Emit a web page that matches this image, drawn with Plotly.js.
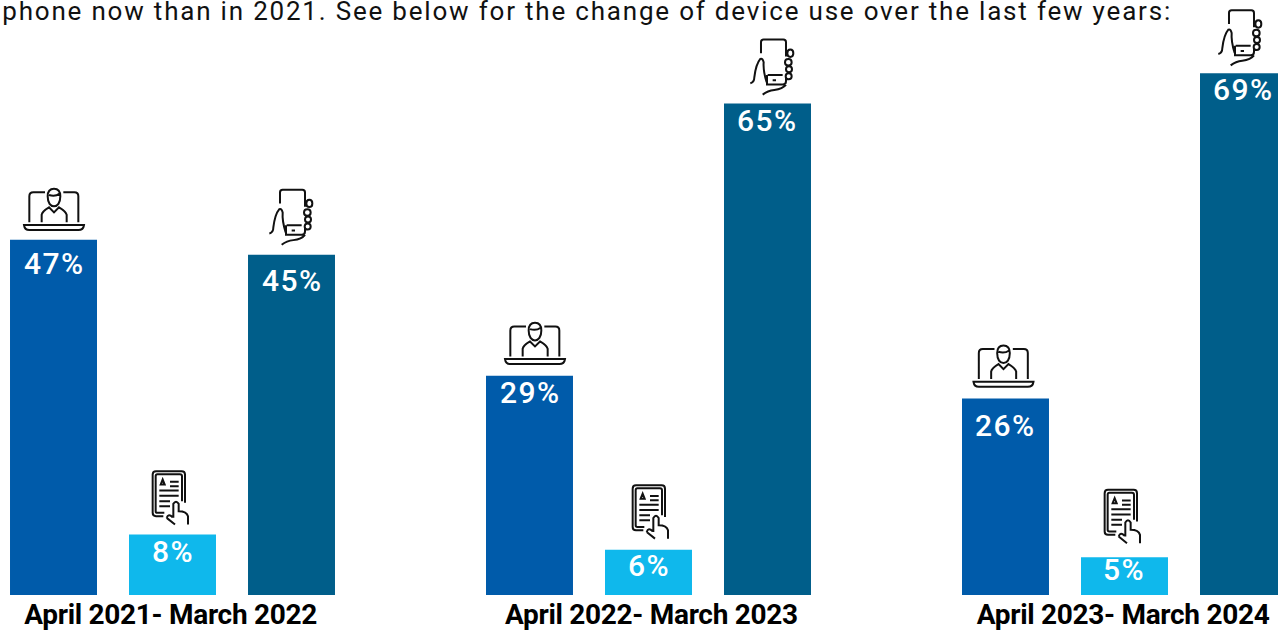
<!DOCTYPE html>
<html>
<head>
<meta charset="utf-8">
<script src="https://cdn.plot.ly/plotly-3.0.1.min.js"></script>
<style>
  html, body { margin: 0; padding: 0; background: #fff; overflow: hidden; }
  #chart { width: 1278px; height: 630px; }
  .gtitle { letter-spacing: 1.8px; }
  .annotation-text { letter-spacing: 1.4px; }
  .xtick text { letter-spacing: -0.3px; }
</style>
</head>
<body>
<div id="chart"></div>
<script>
// Share of sessions by device, one group of bars per reporting year
const periods = ["April 2021- March 2022", "April 2022- March 2023", "April 2023- March 2024"];
const computer = [47, 29, 26];
const tablet = [8, 6, 5];
const smartphone = [45, 65, 69];

const intro = "phone now than in 2021. See below for the change of device use over the last few years:";

// Category index of each group, and the nudged tick positions of its label
const groupIndex = [0, 1, 2];
const tickPositions = [-0.004, 1.006, 1.997];

// Vertical scale: pixels per percentage point, with the axis baseline 35px above the page bottom
const PX_PER_PCT = 7.56;
const PLOT_HEIGHT = 595;

const BAR_STEP = 0.25;      // distance between neighbouring bars, in group units
const seriesStyle = [
  { name: "Computer",   values: computer,   color: "#005BAA", slot: -1, icon: "laptop", drop: [24, 17, 27], lift: [9, 11, 11],  nudge: [0, 5, -2.5] },
  { name: "Tablet",     values: tablet,     color: "#0FB8EC", slot: 0,  icon: "paper",  drop: [17, 16, 12], lift: [10, 11, 14], nudge: [0, 4, 0] },
  { name: "Smartphone", values: smartphone, color: "#005E8A", slot: 1,  icon: "phone",  drop: [26, 17, 16], lift: [10, 9, 8],   nudge: [0, 5, -3] }
];

const oval = (cx, cy, rx, ry) => {
  const k = 1.33 * ry;
  return `M${cx - rx} ${cy} C${cx - rx} ${cy - k} ${cx + rx} ${cy - k} ${cx + rx} ${cy} C${cx + rx} ${cy + k} ${cx - rx} ${cy + k} ${cx - rx} ${cy} Z`;
};

// Outline icons, written at 3x in a y-down space; cx/bottom give the point placed over the bar
const icons = {
  laptop: {
    cx: 160.5, bottom: 183,
    path: [
      "M88 158 L88 80 Q88 68 100 68 L135 68",
      "M190 68 L223 68 Q235 68 235 80 L235 158",
      "M72 166 L252 166 Q250 181 235 181 L88 181 Q74 181 72 166 Z",
      "M143 80 C143 62 152 57 162 57 C172 57 181 62 181 80 C181 100 172 110 162 110 C152 110 143 100 143 80 Z",
      "M147 76 Q165 82 179 72",
      "M125 158 L125 135 Q127 125 147 113 L162 128 L177 113 Q197 125 200 135 L200 158"
    ].join(" ")
  },
  phone: {
    cx: 874.5, bottom: 222,
    path: [
      "M840 98 L840 65 Q840 57 848 57 L907 57 Q915 57 915 65 L915 108",
      "M860 163 L905 163",
      "M858 163 L858 192 L905 192 Q915 192 915 182 L915 170",
      "M875 179 L885 179",
      oval(928, 98, 9, 11), oval(922, 125, 10, 10), oval(924, 146, 9, 9), oval(923, 167, 9, 9),
      "M808 188 Q820 185 820 170 Q825 130 838 115 Q845 112 848 125 Q846 150 857 185",
      "M845 222 Q860 210 880 208 Q905 205 915 192"
    ].join(" ")
  },
  paper: {
    cx: 157.5, bottom: 190,
    path: [
      "M130 165 L108 165 Q98 165 98 155 L98 40 Q98 30 108 30 L185 30 Q195 30 195 40 L195 125",
      "M133 155 L112 155 Q107 155 107 150 L107 45 Q107 39 112 39 L180 39 Q186 39 186 45 L186 120",
      "M122 70 L128 55 L134 70 Z",
      "M150 62 L176 62 M150 75 L176 75 M118 88 L176 88 M118 104 L176 104 M118 120 L150 120 M118 135 L150 135",
      "M160 170 L160 128 Q168 115 176 128 L176 150 Q200 150 204 165 L204 190",
      "M140 170 Q145 155 158 168",
      "M140 170 L165 190"
    ].join(" ")
  }
};

// Convert an icon's 3x y-down path into pixel offsets (y up) from its anchor
function iconPath(icon, lift, nudge) {
  return icon.path.replace(/(-?[\d.]+) (-?[\d.]+)/g, (_, x, y) => {
    const px = (parseFloat(x) - icon.cx) / 3 + nudge;
    const py = (icon.bottom - parseFloat(y)) / 3 + lift;
    return `${px.toFixed(2)} ${py.toFixed(2)}`;
  });
}

const traces = seriesStyle.map(s => ({
  type: "bar",
  name: s.name,
  x: groupIndex,
  y: s.values,
  marker: { color: s.color },
  hovertemplate: "%{y}%<extra>" + s.name + "</extra>"
}));

const labels = [];
const shapes = [];
seriesStyle.forEach(s => {
  s.values.forEach((v, i) => {
    const xPos = groupIndex[i] + s.slot * BAR_STEP;
    labels.push({
      x: xPos, y: v, xref: "x", yref: "y",
      text: v + "%", showarrow: false,
      xanchor: "center", yanchor: "middle", yshift: -s.drop[i],
      font: { family: "Roboto, sans-serif", size: 30, weight: 500, color: "#ffffff" }
    });
    shapes.push({
      type: "path", xref: "x", yref: "y",
      xsizemode: "pixel", ysizemode: "pixel",
      xanchor: xPos, yanchor: v,
      path: iconPath(icons[s.icon], s.lift[i], s.nudge[i]),
      line: { color: "#111111", width: 2 },
      fillcolor: "rgba(0,0,0,0)"
    });
  });
});

const pxLeft = -0.3624, pxRight = 2.3225;

const layout = {
  width: 1278,
  height: 630,
  margin: { l: 0, r: 0, t: 0, b: 630 - PLOT_HEIGHT, pad: 0 },
  paper_bgcolor: "#ffffff",
  plot_bgcolor: "#ffffff",
  showlegend: false,
  barmode: "group",
  bargap: 0.25,
  bargroupgap: 0.269,
  title: {
    text: intro,
    x: 1172 / 1278, xanchor: "right",
    y: 1 - 11 / 630, yanchor: "middle",
    font: { family: "Roboto, sans-serif", size: 26, color: "#111111" }
  },
  xaxis: {
    range: [pxLeft, pxRight],
    tickmode: "array",
    tickvals: tickPositions,
    ticktext: periods,
    ticks: "",
    showgrid: false, zeroline: false, showline: false,
    tickfont: { family: "Roboto, sans-serif", size: 28, weight: 700, color: "#000000" }
  },
  yaxis: {
    range: [0, PLOT_HEIGHT / PX_PER_PCT],
    visible: false, showgrid: false, zeroline: false
  },
  annotations: labels,
  shapes: shapes
};

Plotly.newPlot("chart", traces, layout, { displayModeBar: false, responsive: false });
</script>
</body>
</html>
